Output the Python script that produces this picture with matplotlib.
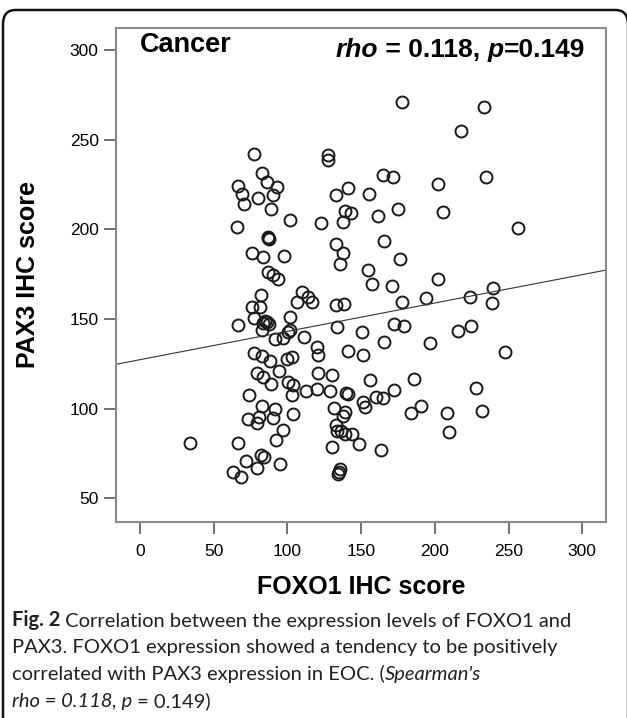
import matplotlib
matplotlib.use("Agg")
import matplotlib.pyplot as plt
from matplotlib.patches import FancyBboxPatch

# ---- data ----
foxo1 = [77.5, 127.7, 127.7, 83.0, 86.0, 92.7, 66.7, 69.0, 70.8, 79.9, 90.0, 88.9, 101.8, 66.0,
         86.6, 87.3, 87.0, 76.2, 83.7, 97.9, 87.0, 90.4, 93.4, 82.1, 76.2, 81.4, 109.7, 114.2,
         116.9, 106.3, 133.0, 138.6, 122.8, 133.0, 140.9, 139.0, 143.1, 137.5, 133.0, 137.9,
         135.7, 155.6, 154.9, 157.6, 178.0, 233.6, 217.8, 164.6, 171.8, 202.4, 234.5, 174.8,
         161.7, 205.8, 256.7, 165.3, 176.4, 170.8, 202.4, 178.0, 193.8, 223.9, 239.7, 238.6,
         66.7, 77.5, 83.6, 86.0, 82.6, 84.5, 101.8, 100.6, 101.8, 91.6, 97.2, 111.3, 119.9,
         121.0, 133.9, 150.4, 141.3, 151.5, 77.3, 83.0, 88.0, 99.5, 102.9, 94.5, 79.1, 83.6,
         88.8, 100.6, 103.6, 102.9, 121.0, 130.0, 112.6, 120.3, 128.9, 139.6, 140.8, 151.5,
         152.6, 156.3, 74.0, 83.0, 91.6, 80.7, 79.1, 73.1, 90.0, 103.6, 131.8, 139.1, 137.5,
         133.0, 133.9, 139.1, 143.6, 136.0, 96.8, 92.1, 130.0, 148.8, 33.9, 66.7, 71.7, 79.1,
         81.9, 84.2, 95.0, 63.3, 68.3, 135.7, 135.2, 134.5, 172.5, 179.1, 165.5, 196.7, 215.6,
         224.6, 247.6, 185.9, 172.1, 227.7, 160.1, 164.7, 183.9, 190.6, 208.5, 231.8, 209.6,
         163.5, 87.5]
pax3 = [242.0, 241.4, 238.6, 231.2, 226.2, 223.4, 224.3, 219.5, 214.1, 217.6, 219.1, 211.3, 205.2, 201.4,
        195.5, 194.4, 195.0, 186.6, 184.4, 185.3, 176.3, 174.5, 172.3, 163.4, 156.8, 156.8, 164.9, 162.1,
        159.6, 159.6, 157.8, 158.2, 203.3, 219.1, 223.2, 210.4, 209.2, 204.2, 191.6, 186.6,
        180.6, 219.5, 177.3, 169.5, 271.0, 268.0, 255.0, 230.3, 229.3, 225.2, 229.3, 211.3,
        207.4, 209.5, 200.5, 193.5, 183.4, 168.5, 172.3, 159.6, 161.5, 162.4, 167.4, 158.7,
        146.6, 150.6, 147.9, 148.5, 143.8, 149.0, 150.9, 142.9, 143.8, 138.7, 139.2, 139.8, 134.5,
        129.9, 145.7, 142.6, 132.3, 129.9, 130.8, 129.3, 126.6, 127.5, 128.6, 121.0, 119.7, 117.8,
        113.6, 115.0, 113.2, 107.6, 120.0, 118.8, 109.8, 110.8, 109.8, 108.8, 108.3, 103.9,
        101.1, 115.8, 107.6, 101.5, 99.6, 95.5, 92.2, 94.0, 94.9, 96.8, 100.5, 98.3, 95.9,
        90.9, 87.7, 85.9, 85.7, 87.5, 88.1, 82.5, 78.8, 80.1, 80.7, 80.7, 70.6, 66.7,
        74.1, 73.2, 69.0, 64.8, 62.0, 66.2, 64.8, 63.5, 147.2, 146.2, 137.3, 136.4, 143.4,
        146.2, 131.4, 116.5, 110.4, 111.7, 106.6, 105.7, 97.4, 101.5, 97.4, 98.7, 86.8,
        76.9, 147.0]
fit_intercept = 127.3
fit_slope = 0.158
xticks = [0, 50, 100, 150, 200, 250, 300]
yticks = [50, 100, 150, 200, 250, 300]
group_label = "Cancer"
x_title = "FOXO1 IHC score"
y_title = "PAX3 IHC score"

W, H = 627, 718
fig = plt.figure(figsize=(W / 100, H / 100), dpi=100)


def fx(px):
    return px / W


def fy(py):
    return 1 - py / H


# rounded outer frame (bottom cut off by the image edge)
frame = FancyBboxPatch((fx(3), fy(740)), fx(628) - fx(3), fy(10) - fy(740),
                       boxstyle="round,pad=0,rounding_size=0.02",
                       transform=fig.transFigure, fill=False, ec="#111111", lw=1.8,
                       clip_on=False)
fig.patches.append(frame)

ax = fig.add_axes([fx(116), fy(522), fx(606) - fx(116), fy(28) - fy(522)])
ax.plot(foxo1, pax3, linestyle="none", marker="o", ms=8.6, mfc="none",
        mec="#1a1a1a", mew=1.4)
ax.set_xlim(-16.3, 316.1)
ax.set_ylim(36.8, 312.2)
ax.axline((0, fit_intercept), slope=fit_slope, color="#333333", lw=0.8)

for s in ax.spines.values():
    s.set_color("#8a8a8a")
    s.set_linewidth(1.5)
ax.set_xticks(xticks)
ax.set_yticks(yticks)
ax.tick_params(direction="out", length=8.5, width=1.3, color="#666666",
               labelsize=12.5)
ax.tick_params(axis="x", pad=7)
ax.tick_params(axis="y", pad=4)
for lab in ax.get_xticklabels() + ax.get_yticklabels():
    lab.set_fontfamily("Liberation Sans")

fig.text(fx(361), fy(587), x_title, fontsize=18, fontweight="bold",
         fontfamily="Liberation Sans", ha="center", va="center")
fig.text(fx(28), fy(275), y_title, fontsize=18, fontweight="bold",
         fontfamily="Liberation Sans", ha="center", va="center", rotation=90)

# in-plot annotations
ax.text(0, 303, group_label, fontsize=19.5, fontweight="bold",
        fontfamily="Liberation Sans", ha="left", va="center")


def chain(x_px, y_px, parts, **common):
    s, st = parts[0]
    kw = dict(common); kw.update(st)
    prev = fig.text(fx(x_px), fy(y_px), s, ha="left", va="baseline", **kw)
    for s, st in parts[1:]:
        kw = dict(common); kw.update(st)
        prev = ax.annotate(s, xy=(1, 0), xycoords=prev, ha="left", va="bottom",
                           annotation_clip=False, **kw)
    return prev


B = dict(fontweight="bold")
BI = dict(fontweight="bold", fontstyle="italic")
chain(336, 57, [("rho", BI), (" = 0.118, ", B), ("p", BI), ("=0.149", B)],
      fontsize=19, fontfamily="Liberation Sans", color="black")

cap = dict(fontsize=14.5, fontfamily="Lato", color="#231f20")
N = dict(); I = dict(fontstyle="italic"); CB = dict(fontweight="bold")
chain(12, 626, [("Fig. 2", CB), (" Correlation between the expression levels of FOXO1 and", N)], **cap)
chain(12, 653, [("PAX3. FOXO1 expression showed a tendency to be positively", N)], **cap)
chain(12, 680, [("correlated with PAX3 expression in EOC. (", N), ("Spearman's", I)], **cap)
chain(12, 707, [("rho = 0.118, p", I), (" = 0.149)", N)], **cap)

fig.savefig("out.png", dpi=100)
